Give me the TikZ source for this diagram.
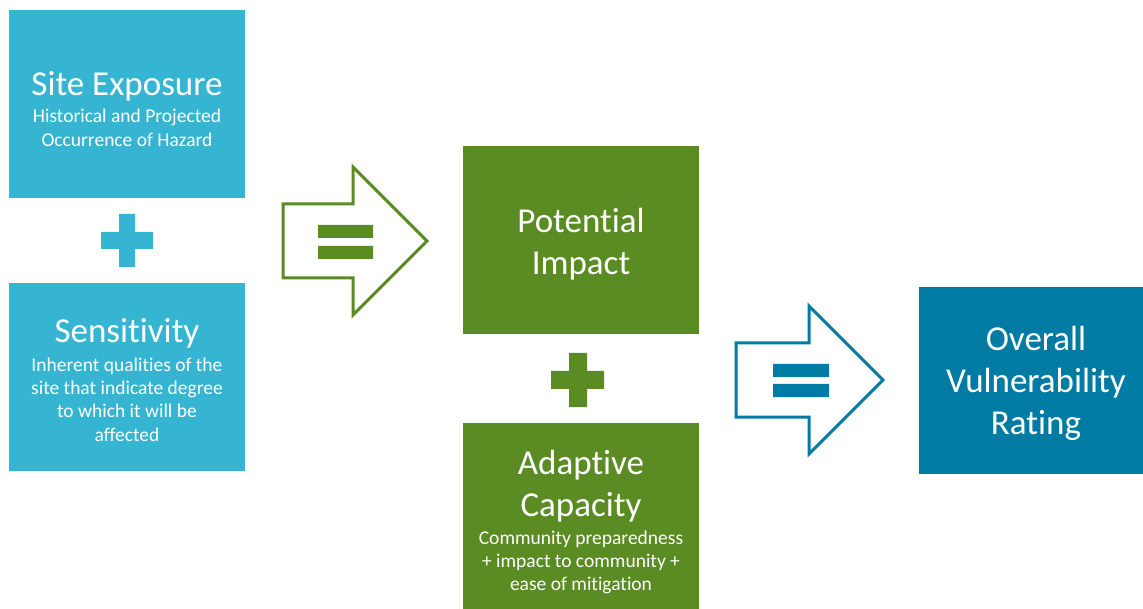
\documentclass[tikz,border=0pt]{standalone}
\usepackage{fontspec}
\setmainfont{Carlito}[Ligatures=NoCommon]
\usepackage{xcolor}
\usetikzlibrary{shapes,arrows,positioning,fit}
\definecolor{sky}{RGB}{53,181,209}
\definecolor{leaf}{RGB}{91,140,35}
\definecolor{sea}{RGB}{0,123,163}
\newcommand{\ttl}{\fontsize{35}{42}\selectfont}
\newcommand{\subtxt}{\fontsize{19.5}{23.3}\selectfont}

\begin{document}
\begin{tikzpicture}[x=1pt,y=-1pt,every node/.style={align=flush center,rectangle,inner sep=0pt,text=white,font=\ttl,text width=220pt},
  box/.style={minimum width=236pt,minimum height=188pt}]
\useasboundingbox (0,0) rectangle (1143,609);
\node[box,fill=sky] (expo) at (127,104) {};
\node[box,fill=sky] (sens) at (127,377) {};
\node[box,fill=leaf] (impact) at (581,240) {};
\node[box,fill=leaf,minimum height=186pt] (adapt) at (581,516) {};
\node[box,fill=sea,minimum width=224pt,minimum height=187pt] (rating) at (1031,380.5) {};

\node[yshift=-5pt] (expo-t) at (expo) {Site Exposure\par\vspace{4pt}\subtxt Historical and Projected\\ Occurrence of Hazard\par};
\node[yshift=-3pt] (sens-t) at (sens) {Sensitivity\par\vspace{5pt}\subtxt Inherent qualities of the\\ site that indicate degree\\ to which it will be\\ affected\par};
\node[yshift=-4pt] (impact-t) at (impact) {Potential\\ Impact\par};
\node[yshift=-6pt] (adapt-t) at (adapt) {Adaptive\\ Capacity\par\vspace{5pt}\subtxt Community preparedness\\ + impact to community +\\ ease of mitigation\par};
\node[xshift=5pt,yshift=-3pt] (rating-t) at (rating) {Overall\\ Vulnerability\\ Rating\par};

\fill[sky] (119,214) rectangle (135,267) (101,232) rectangle (153,249);
\fill[leaf] (569,353) rectangle (587,407) (551,371) rectangle (604,389);

\draw[leaf,line width=3pt,line join=miter] (283,204) -- (353,204) -- (353,167) -- (427,241) -- (353,315) -- (353,278) -- (283,278) -- cycle;
\fill[leaf] (318,225) rectangle (373,238) (318,246) rectangle (373,259);

\draw[sea,line width=3pt,line join=miter] (736,343) -- (809,343) -- (809,306) -- (883,380) -- (809,454) -- (809,417) -- (736,417) -- cycle;
\fill[sea] (773,364) rectangle (829,377) (773,384) rectangle (829,397);

\end{tikzpicture}
\end{document}
